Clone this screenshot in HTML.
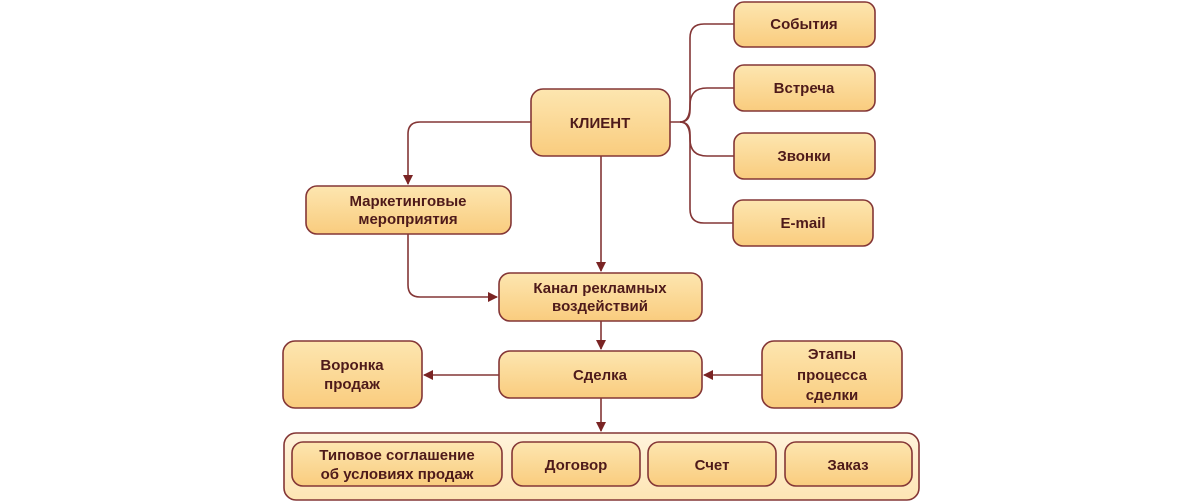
<!DOCTYPE html>
<html><head><meta charset="utf-8"><style>body{margin:0;background:#fff}svg{display:block}</style></head><body>
<svg width="1200" height="502" viewBox="0 0 1200 502" xmlns="http://www.w3.org/2000/svg">
<defs>
<linearGradient id="g" x1="0" y1="0" x2="0" y2="1"><stop offset="0" stop-color="#fde6b0"/><stop offset="1" stop-color="#f9cc7e"/></linearGradient>
<linearGradient id="g2" x1="0" y1="0" x2="0" y2="1"><stop offset="0" stop-color="#fff3dc"/><stop offset="1" stop-color="#fde5b4"/></linearGradient>
<marker id="a" markerWidth="10" markerHeight="10" refX="9" refY="5" orient="auto" markerUnits="userSpaceOnUse"><path d="M0,0 L10,5 L0,10 z" fill="#7a2424"/></marker>
</defs>
<g fill="none" stroke="#843636" stroke-width="1.6">
<path d="M531,122 H420 Q408,122 408,134 V184" marker-end="url(#a)"/>
<path d="M601,156 V271" marker-end="url(#a)"/>
<path d="M408,234 V285 Q408,297 420,297 H497" marker-end="url(#a)"/>
<path d="M601,321 V349" marker-end="url(#a)"/>
<path d="M499,375 H424" marker-end="url(#a)"/>
<path d="M762,375 H704" marker-end="url(#a)"/>
<path d="M601,398 V431" marker-end="url(#a)"/>
<path d="M670,122 H680 Q690,122 690,110 V38 Q690,24 704,24 H734"/>
<path d="M680,122 Q690,122 690,105 Q690,88 707,88 H734"/>
<path d="M680,122 Q690,122 690,139 Q690,156 707,156 H734"/>
<path d="M680,122 Q690,122 690,134 V209 Q690,223 704,223 H733"/>
</g>
<g stroke="#843636" stroke-width="1.6">
<rect x="284" y="433" width="635" height="67" rx="12" fill="url(#g2)"/>
<g fill="url(#g)">
<rect x="734" y="2" width="141" height="45" rx="10"/>
<rect x="734" y="65" width="141" height="46" rx="10"/>
<rect x="734" y="133" width="141" height="46" rx="10"/>
<rect x="733" y="200" width="140" height="46" rx="10"/>
<rect x="531" y="89" width="139" height="67" rx="12"/>
<rect x="306" y="186" width="205" height="48" rx="11"/>
<rect x="499" y="273" width="203" height="48" rx="11"/>
<rect x="499" y="351" width="203" height="47" rx="11"/>
<rect x="283" y="341" width="139" height="67" rx="12"/>
<rect x="762" y="341" width="140" height="67" rx="12"/>
<rect x="292" y="442" width="210" height="44" rx="11"/>
<rect x="512" y="442" width="128" height="44" rx="11"/>
<rect x="648" y="442" width="128" height="44" rx="11"/>
<rect x="785" y="442" width="127" height="44" rx="11"/>
</g></g>
<g font-family="Liberation Sans, sans-serif" font-weight="bold" font-size="15" fill="#4e1a1a" text-anchor="middle">
<text x="804" y="29">События</text>
<text x="804" y="93">Встреча</text>
<text x="804" y="161">Звонки</text>
<text x="803" y="228">E-mail</text>
<text x="600" y="128">КЛИЕНТ</text>
<text x="408" y="206">Маркетинговые</text>
<text x="408" y="224">мероприятия</text>
<text x="600" y="293">Канал рекламных</text>
<text x="600" y="311">воздействий</text>
<text x="600" y="380">Сделка</text>
<text x="352" y="370">Воронка</text>
<text x="352" y="389">продаж</text>
<text x="832" y="359">Этапы</text>
<text x="832" y="380">процесса</text>
<text x="832" y="400">сделки</text>
<text x="397" y="460">Типовое соглашение</text>
<text x="397" y="479">об условиях продаж</text>
<text x="576" y="470">Договор</text>
<text x="712" y="470">Счет</text>
<text x="848" y="470">Заказ</text>
</g>
</svg>
</body></html>
